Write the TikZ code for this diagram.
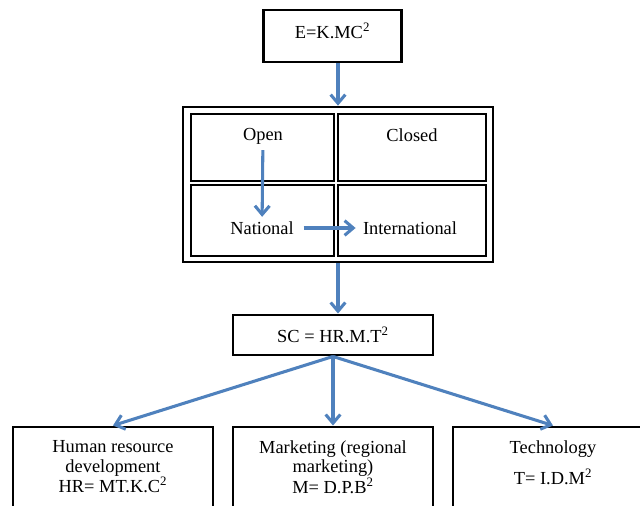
\documentclass[tikz,border=0pt]{standalone}
\usepackage{fontspec}
\setmainfont{Liberation Serif}
\usetikzlibrary{arrows.meta}
\definecolor{flowblue}{RGB}{79,129,189}

\begin{document}
\begin{tikzpicture}[x=0.75pt,y=-0.75pt,>={Straight Barb[length=6.5pt,width=11pt]},
  box/.style={draw=black,line width=2.2pt,align=center,inner sep=0pt,
    font=\fontsize{13.8}{14.5}\selectfont},
  cell/.style={draw=black,line width=2pt,inner sep=0pt},
  lbl/.style={font=\fontsize{13.8}{14.5}\selectfont},
  flow/.style={->,draw=flowblue,line width=2.3pt}]
  \useasboundingbox (0,0) rectangle (640,506);
  \clip (0,0) rectangle (640,506);

  % formula at the top
  \node[box,minimum width=104pt,minimum height=39pt] (top) at (332.5,36) {E=K.MC\textsuperscript{2}\\[-6pt]\mbox{}};

  % table of strategies
  \node[cell,minimum width=232.5pt,minimum height=116.25pt] (frame) at (338,184.5) {};
  \node[cell,minimum width=107.25pt,minimum height=50.25pt] (opencell) at (262.5,147.5) {};
  \node[cell,minimum width=111pt,minimum height=50.25pt] (closedcell) at (412,147.5) {};
  \node[cell,minimum width=107.25pt,minimum height=53.25pt] (natcell) at (262.5,220.5) {};
  \node[cell,minimum width=111pt,minimum height=53.25pt] (intcell) at (412,220.5) {};
  \node[lbl] (open) at (263,136) {Open};
  \node[lbl] (closed) at (412,135) {Closed};
  \node[lbl] (national) at (262,228) {National};
  \node[lbl] (intl) at (410,228) {International};

  % competitiveness and its factors
  \node[box,minimum width=150pt,minimum height=30pt] (sc) at (333,335) {SC = HR.M.T\textsuperscript{2}};
  \node[box,minimum width=150pt,minimum height=60pt] (hr) at (113,467)
    {Human resource\\development\\HR= MT.K.C\textsuperscript{2}};
  \node[box,minimum width=150pt,minimum height=60pt] (mkt) at (333,467)
    {Marketing (regional\\marketing)\\M= D.P.B\textsuperscript{2}};
  \node[box,minimum width=150pt,minimum height=60pt] (tech) at (553,467)
    {Technology\\[8pt]T= I.D.M\textsuperscript{2}\\[-8pt]\mbox{}};

  \draw[flow] (frame.north |- top.south) -- (frame.north);
  \draw[flow,shorten <=1pt] (open) -- (national);
  \draw[flow,shorten <=4pt,shorten >=2pt] (national) -- (intl);
  \draw[flow] (frame.south) -- (frame.south |- sc.north);
  \draw[flow] (sc.south) -- (hr.north);
  \draw[flow] (sc.south) -- (mkt.north);
  \draw[flow] (sc.south) -- (tech.north);
\end{tikzpicture}
\end{document}
